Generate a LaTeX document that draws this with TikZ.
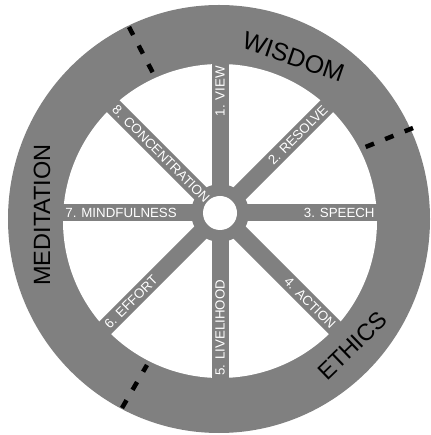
\documentclass[tikz,border=0pt]{standalone}
\usepackage{fontspec}
\setmainfont{Liberation Sans}
\definecolor{wheelgray}{RGB}{128,128,128}
\begin{document}
\begin{tikzpicture}[x=1pt,y=1pt,
  spoke/.style={draw=wheelgray, line width=17pt, shorten >=-12pt},
  lbl/.style={text=white, font=\fontsize{13.3}{14}\selectfont, inner sep=2pt},
  big/.style={font=\fontsize{23.5}{25}\selectfont, text=black, inner sep=0pt},
  divider/.style={draw=black, line width=4.5pt, dash pattern=on 9pt off 12pt}]
\useasboundingbox[fill=white] (-220,-215) rectangle (210,220);
% rim
\fill[wheelgray] (-1,1) ellipse [x radius=211, y radius=214];
\fill[white] (0,-1) circle[radius=157];
% hub and rim points
\coordinate (hub) at (0,7);
\path (hub) ++(90:149)   coordinate (r1);
\path (hub) ++(45:151.2) coordinate (r2);
\path (hub) ++(0:156.8)  coordinate (r3);
\path (hub) ++(-45:162.5) coordinate (r4);
\path (hub) ++(-90:165)  coordinate (r5);
\path (hub) ++(225:162.5) coordinate (r6);
\path (hub) ++(180:156.8) coordinate (r7);
\path (hub) ++(135:151.2) coordinate (r8);
% spokes
\foreach \r in {r1,r2,r3,r4,r5,r6,r7,r8}
  \draw[spoke] (hub) -- (\r);
\fill[wheelgray] (hub) circle[radius=29];
\fill[white] (hub) circle[radius=17];
% spoke labels
\node[lbl, rotate=90,  anchor=east] (n1) at (r1) {1. VIEW};
\node[lbl, rotate=45,  anchor=east] (n2) at (r2) {2. RESOLVE};
\node[lbl, rotate=0,   anchor=east] (n3) at (r3) {3. SPEECH};
\node[lbl, rotate=-45, anchor=east] (n4) at (r4) {4. ACTION};
\node[lbl, rotate=90,  anchor=west] (n5) at (r5) {5. LIVELIHOOD};
\node[lbl, rotate=45,  anchor=west] (n6) at (r6) {6. EFFORT};
\node[lbl, rotate=0,   anchor=west] (n7) at (r7) {7. MINDFULNESS};
\node[lbl, rotate=-45, anchor=west] (n8) at (r8) {8. CONCENTRATION};
% dividers
\coordinate (d1o) at (-91,193);  \coordinate (d1i) at (-67,147);
\coordinate (d2o) at (193,92);   \coordinate (d2i) at (143,72);
\coordinate (d3o) at (-98,-188); \coordinate (d3i) at (-73,-145);
\draw[divider] (d1o) -- (d1i);
\draw[divider] (d2o) -- (d2i);
\draw[divider] (d3o) -- (d3i);
% section labels
\node[big, font=\fontsize{25}{26}\selectfont, rotate=-19] (wisdom) at (73.5,163) {WISDOM};
\node[big, rotate=44] (ethics) at (132.5,-126) {ETHICS};
\node[big, rotate=90] (meditation) at (-178,5) {MEDITATION};
\end{tikzpicture}
\end{document}
